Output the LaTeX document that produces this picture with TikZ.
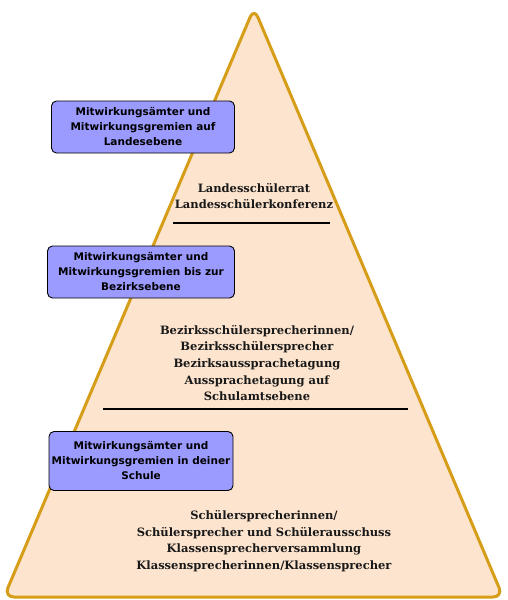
\documentclass[tikz,border=0pt]{standalone}
\usepackage{fontspec}
\setmainfont{DejaVu Serif}
\newfontfamily\boxfont{DejaVu Sans}
\newfontfamily\levelfont{DejaVu Serif}
\definecolor{triline}{RGB}{214,158,24}
\definecolor{trifill}{RGB}{253,228,206}
\definecolor{boxfill}{RGB}{155,155,255}
\tikzset{
  levelbox/.style={draw=black, line width=0.9pt, fill=boxfill, rounded corners=5pt,
    minimum height=52pt, align=center, font=\boxfont\bfseries\fontsize{10.5}{15}\selectfont, inner sep=1pt},
  leveltext/.style={align=center, font=\levelfont\bfseries\fontsize{11.5}{16.6}\selectfont, text=black!90},
  divider/.style={line width=2.6pt, black}
}
\begin{document}
\begin{tikzpicture}[x=1pt,y=-1pt]
\useasboundingbox (0,0) rectangle (507,600);
\draw[triline, fill=trifill, line width=3pt, rounded corners=10pt, line join=round]
  (254,8) -- (503,597) -- (4,597) -- cycle;
\node[levelbox, minimum width=183pt] (b1) at (143,127) {Mitwirkungsämter und\\Mitwirkungsgremien auf\\Landesebene};
\node[levelbox, minimum width=187pt] (b2) at (141,272) {Mitwirkungsämter und\\Mitwirkungsgremien bis zur\\Bezirksebene};
\node[levelbox, minimum width=184pt, minimum height=59pt] (b3) at (141,461) {Mitwirkungsämter und\\Mitwirkungsgremien in deiner\\Schule};
\node[leveltext] (t1) at (254,196) {Landesschülerrat\\Landesschülerkonferenz};
\node[leveltext] (t2) at (257,363) {Bezirksschülersprecherinnen/\\Bezirksschülersprecher\\Bezirksaussprachetagung\\Aussprachetagung auf\\Schulamtsebene};
\node[leveltext] (t3) at (264,541) {Schülersprecherinnen/\\Schülersprecher und Schülerausschuss\\Klassensprecherversammlung\\Klassensprecherinnen/Klassensprecher};
\coordinate (l1a) at (173,223); \coordinate (l1b) at (330,223);
\coordinate (l2a) at (103,409); \coordinate (l2b) at (408,409);
\draw[divider] (l1a) -- (l1b);
\draw[divider] (l2a) -- (l2b);
\end{tikzpicture}
\end{document}
